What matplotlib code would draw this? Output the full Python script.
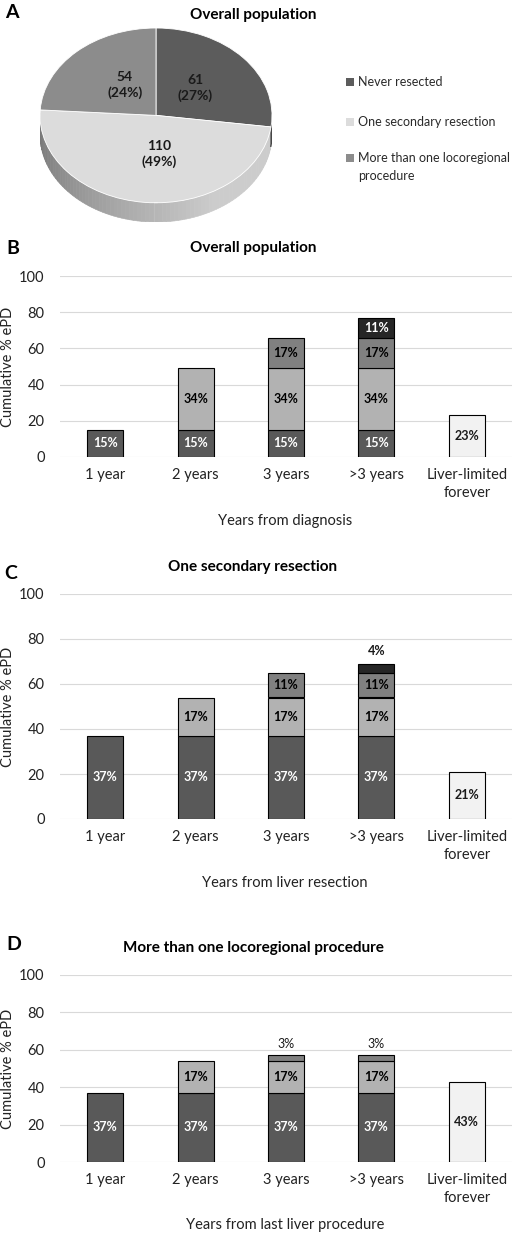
import numpy as np
import matplotlib
matplotlib.use('Agg')
from matplotlib import pyplot as plt
from matplotlib.patches import Wedge, Polygon, Rectangle

plt.rcParams['font.family'] = ['Lato', 'DejaVu Sans']

# --- data ---
pie_labels = ['Never resected', 'One secondary resection', 'More than one locoregional\nprocedure']
pie_counts = [61, 110, 54]
pie_pcts = [27, 49, 24]
pie_colors = ['#5c5c5c', '#dcdcdc', '#8c8c8c']

categories = ['1 year', '2 years', '3 years', '>3 years', 'Liver-limited\nforever']
seg_colors = ['#595959', '#b2b2b2', '#808080', '#262626']
seg_text = ['white', 'black', 'black', 'white']
liver_color = '#f2f2f2'

b_seg1 = [15, 15, 15, 15]
b_seg2 = [0, 34, 34, 34]
b_seg3 = [0, 0, 17, 17]
b_seg4 = [0, 0, 0, 11]
b_liver = 23

c_seg1 = [37, 37, 37, 37]
c_seg2 = [0, 17, 17, 17]
c_seg3 = [0, 0, 11, 11]
c_seg4 = [0, 0, 0, 4]
c_liver = 21

d_seg1 = [37, 37, 37, 37]
d_seg2 = [0, 17, 17, 17]
d_seg3 = [0, 0, 3, 3]
d_seg4 = [0, 0, 0, 0]
d_liver = 43

W, H = 515, 1234
fig = plt.figure(figsize=(W / 100, H / 100), dpi=100)


def ax_px(l, t, r, b):
    return fig.add_axes([l / W, 1 - b / H, (r - l) / W, (b - t) / H])


def ftext(x, y, s, **kw):
    fig.text(x / W, 1 - y / H, s, **kw)


# --- panel A: 3D-ish pie ---
ax = ax_px(40, 28, 272, 222)
depth = 0.22
ax.set_xlim(-1, 1)
ax.set_ylim(-1 - depth, 1)
ax.axis('off')

fracs = np.array(pie_counts) / sum(pie_counts)
bounds = []
a = 90.0
for f in fracs:
    bounds.append((a - f * 360, a))
    a -= f * 360

# side band, front half only, with shading
steps = np.linspace(180, 360, 90)
for i in range(len(steps) - 1):
    t0, t1 = steps[i], steps[i + 1]
    k = (t0 + t1) / 2
    if k > 360 + bounds[0][0]:
        col = '#474747'
    else:
        g = 0.45 + 0.35 * np.clip((k - 180) / 120, 0, 1)
        col = (g, g, g)
    th = np.radians([t0, t1])
    pts = [(np.cos(th[0]), np.sin(th[0])), (np.cos(th[1]), np.sin(th[1])),
           (np.cos(th[1]), np.sin(th[1]) - depth), (np.cos(th[0]), np.sin(th[0]) - depth)]
    ax.add_patch(Polygon(pts, closed=True, facecolor=col, edgecolor=col, lw=0.5))

for (t0, t1), col in zip(bounds, pie_colors):
    ax.add_patch(Wedge((0, 0), 1, t0, t1, facecolor=col, edgecolor='white', lw=0.6))

pie_text_pos = [(0.34, 0.31), (0.03, -0.44), (-0.27, 0.35)]
for (x, y), n, p in zip(pie_text_pos, pie_counts, pie_pcts):
    ax.text(x, y, f'{n}\n({p}%)', ha='center', va='center', fontsize=10,
            fontweight='bold', color='#1a1a1a', linespacing=1.35)

ftext(5, 13, 'A', fontsize=14, fontweight='bold', va='center', ha='left')
ftext(253, 15, 'Overall population', fontsize=11, fontweight='bold', ha='center', va='center')

leg_y = [82, 122, 158]
for y, lab, col in zip(leg_y, pie_labels, pie_colors):
    fig.patches.append(Rectangle((346 / W, 1 - (y + 4) / H), 8 / W, 8 / H,
                                 facecolor=col, edgecolor='none',
                                 transform=fig.transFigure, figure=fig))
    ftext(358, y + (-6 if '\n' in lab else 0), lab, fontsize=9,
          ha='left', va='top' if '\n' in lab else 'center',
          linespacing=1.55, color='#2a2a2a')


# --- bar panels ---
def bar_panel(top, bottom, segs, liver, title, title_y, xlabel, xlabel_y,
              out_weight='bold'):
    ax = ax_px(60, top, 512, bottom)
    x = np.arange(len(categories))
    w = 0.4
    bottoms = np.zeros(4)
    for vals, col, tc in zip(segs, seg_colors, seg_text):
        vals = np.array(vals, dtype=float)
        for i in range(4):
            v = vals[i]
            if v <= 0:
                continue
            ax.bar(x[i], v, w, bottom=bottoms[i], color=col, edgecolor='black',
                   linewidth=0.8, zorder=3)
            if v < 6:
                ax.text(x[i], bottoms[i] + v + 3, f'{v:.0f}%', ha='center', va='bottom',
                        fontsize=9, fontweight=out_weight, color='#1a1a1a', zorder=4)
            else:
                ax.text(x[i], bottoms[i] + v / 2, f'{v:.0f}%', ha='center', va='center',
                        fontsize=9, fontweight='bold', color=tc, zorder=4)
        bottoms += vals
    ax.bar(x[4], liver, w, color=liver_color, edgecolor='black', linewidth=0.8, zorder=3)
    ax.text(x[4], liver / 2, f'{liver}%', ha='center', va='center', fontsize=9,
            fontweight='bold', color='#1a1a1a', zorder=4)

    ax.set_xlim(-0.5, 4.5)
    ax.set_ylim(0, 100)
    ax.set_yticks(range(0, 101, 20))
    ax.set_xticks(x)
    ax.set_xticklabels(categories, linespacing=1.35)
    ax.grid(axis='y', color='#d9d9d9', lw=0.8, zorder=0)
    ax.set_axisbelow(True)
    for s in ax.spines.values():
        s.set_visible(False)
    ax.tick_params(axis='both', length=0, labelsize=10.5, colors='#222222')
    ax.tick_params(axis='y', pad=11)
    ax.tick_params(axis='x', pad=8)

    ftext(8, (top + bottom) / 2, 'Cumulative % ePD', fontsize=10.5, rotation=90,
          ha='center', va='center', color='#222222')
    ftext(253, title_y, title, fontsize=11, fontweight='bold', ha='center', va='center')
    ftext(xlabel[0], xlabel_y, xlabel[1], fontsize=10.5, ha='center', va='center',
          color='#222222')
    return ax


bar_panel(276, 457, [b_seg1, b_seg2, b_seg3, b_seg4], b_liver, 'Overall population', 248,
          (285, 'Years from diagnosis'), 521)
ftext(6, 248, 'B', fontsize=14, fontweight='bold', va='center', ha='left')

bar_panel(594, 819, [c_seg1, c_seg2, c_seg3, c_seg4], c_liver, 'One secondary resection', 567,
          (285, 'Years from liver resection'), 883)
ftext(4, 574, 'C', fontsize=14, fontweight='bold', va='center', ha='left')

bar_panel(975, 1162, [d_seg1, d_seg2, d_seg3, d_seg4], d_liver,
          'More than one locoregional procedure', 948,
          (285, 'Years from last liver procedure'), 1225, out_weight='normal')
ftext(6, 945, 'D', fontsize=14, fontweight='bold', va='center', ha='left')

fig.savefig('out.png', dpi=100, facecolor='white')
